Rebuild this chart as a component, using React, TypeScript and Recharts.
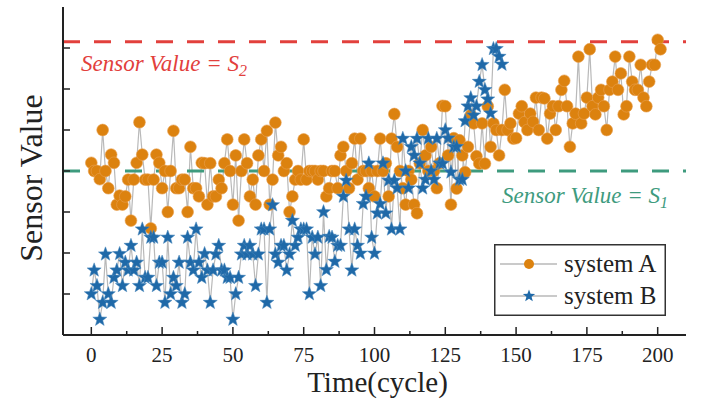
import { LineChart, Line, XAxis, YAxis, ReferenceLine, Legend } from 'recharts';

// sensor readings per cycle
const SYSTEM_A = [
  3.2, 3.0, 3.0, 2.8, 4.0, 3.0, 2.58, 3.4, 3.2, 2.18,
  2.4, 2.18, 2.38, 2.79, 1.79, 2.79, 3.2, 4.19, 3.4, 2.79,
  2.79, 1.6, 2.79, 3.4, 3.2, 2.58, 3.0, 2.0, 3.0, 3.98,
  2.58, 2.58, 2.79, 2.79, 2.0, 3.59, 2.58, 2.58, 2.38, 3.2,
  3.19, 2.18, 3.19, 2.38, 2.38, 2.79, 2.58, 3.19, 3.77, 3.0,
  2.18, 3.38, 1.79, 3.0, 3.77, 3.19, 2.38, 2.79, 2.18, 3.38,
  3.77, 3.0, 3.98, 2.18, 2.79, 4.18, 3.38, 3.59, 3.0, 3.19,
  2.0, 2.38, 2.79, 3.0, 2.79, 3.77, 2.79, 3.0, 3.0, 3.0,
  2.79, 3.0, 3.0, 2.38, 2.58, 3.0, 3.0, 2.58, 3.38, 3.59,
  3.0, 2.58, 3.19, 3.79, 2.79, 3.79, 3.0, 3.0, 2.58, 3.0,
  2.38, 3.0, 3.79, 3.0, 3.19, 2.38, 3.79, 4.39, 3.59, 3.0,
  2.58, 2.18, 3.0, 2.79, 2.18, 1.97, 3.19, 4.0, 3.38, 3.0,
  3.59, 3.0, 2.58, 3.19, 4.59, 4.58, 3.38, 2.18, 3.8, 2.57,
  3.75, 3.38, 2.97, 3.59, 4.36, 4.16, 3.36, 3.18, 4.16, 3.18,
  4.58, 3.59, 4.16, 4.0, 3.38, 4.0, 4.98, 4.0, 4.16, 3.79,
  3.8, 4.4, 4.58, 4.19, 4.0, 4.4, 4.2, 4.79, 4.0, 4.79,
  4.77, 3.79, 4.4, 4.58, 4.0, 4.58, 4.98, 5.2, 4.58, 3.59,
  4.16, 4.4, 5.79, 4.16, 4.4, 4.79, 5.97, 4.58, 4.38, 4.79,
  4.98, 4.58, 4.0, 4.98, 5.18, 5.79, 4.98, 5.38, 4.38, 4.58,
  5.79, 5.18, 4.98, 4.98, 5.59, 4.79, 4.58, 5.18, 5.59, 5.59,
  6.2, 5.97,
];

const SYSTEM_B = [
  0.0, 0.58, 0.2, -0.62, -0.21, 0.97, 0.0, -0.21, 0.4, 0.58,
  0.98, 0.2, 0.77, 0.58, 1.18, 0.58, 0.77, 0.2, 1.58, 0.4,
  0.4, 1.38, 1.38, 0.2, 0.77, 0.77, -0.21, 1.38, 0.0, 0.4,
  0.2, 0.77, -0.21, 0.0, 1.38, 0.77, 0.58, 1.58, 0.77, 0.4,
  0.98, 0.58, -0.21, 0.58, 0.97, 1.18, 0.58, 0.58, 0.4, 0.4,
  -0.62, 0.0, 0.4, 0.97, 1.18, 0.97, 1.18, 0.97, 0.2, 0.97,
  1.58, 1.58, -0.21, 1.58, 2.17, 0.97, 0.77, 1.18, 1.18, 0.58,
  0.97, 1.79, 1.18, 1.38, 1.58, 1.58, 1.58, 0.0, 1.38, 0.97,
  1.38, 0.2, 2.0, 0.59, 1.4, 1.38, 0.79, 1.18, 1.18, 2.38,
  2.77, 1.58, 0.58, 1.58, 1.18, 0.99, 2.2, 2.38, 3.19, 1.38,
  0.99, 1.97, 2.2, 3.19, 1.97, 2.77, 1.58, 2.77, 2.58, 1.58,
  3.79, 3.0, 2.58, 3.59, 3.38, 3.79, 3.19, 2.58, 2.79, 3.79,
  3.0, 2.79, 3.79, 3.19, 3.18, 4.0, 3.8, 2.97, 3.59, 3.59,
  2.79, 2.79, 4.22, 4.58, 4.78, 4.36, 4.58, 5.18, 5.59, 4.98,
  4.75, 4.41, 5.98, 5.98, 5.79, 5.6,
];

const X_TICKS = [0, 12.5, 25, 37.5, 50, 62.5, 75, 87.5, 100, 112.5, 125, 137.5, 150, 162.5, 175, 187.5, 200];
const Y_TICKS = [0, 1, 2, 3, 4, 5, 6];
const LEVEL_S1 = 3.0;
const LEVEL_S2 = 6.15;

const FONT = '"Liberation Serif", "Times New Roman", serif';
const ORANGE = '#DC820F';
const BLUE = '#1F69A8';
const GREY = '#b9b9b9';
const RED = '#E2403C';
const GREEN = '#3E9B7E';
const AXIS = '#222';

const chartData = SYSTEM_A.map((a, t) => ({
  t,
  a,
  b: t < SYSTEM_B.length ? SYSTEM_B[t] : null,
}));

function starPoints(cx: number, cy: number, outer: number, inner: number) {
  const pts: string[] = [];
  for (let i = 0; i < 10; i++) {
    const r = i % 2 === 0 ? outer : inner;
    const ang = -Math.PI / 2 + (i * Math.PI) / 5;
    pts.push(`${cx + r * Math.cos(ang)},${cy + r * Math.sin(ang)}`);
  }
  return pts.join(' ');
}

const CircleDot = (props: any) => {
  const { cx, cy, index } = props;
  if (cx == null || cy == null) return <g key={`a-${index}`} />;
  return <circle key={`a-${index}`} cx={cx} cy={cy} r={5.9} fill={ORANGE} stroke="#e8a050" strokeWidth={0.6} />;
};

const StarDot = (props: any) => {
  const { cx, cy, index, value } = props;
  if (cx == null || cy == null || value == null) return <g key={`b-${index}`} />;
  return <polygon key={`b-${index}`} points={starPoints(cx, cy, 7.4, 3.1)} fill={BLUE} stroke="#4a88bd" strokeWidth={0.5} />;
};

const textStyle = { fontFamily: FONT };

const XTick = (props: any) => {
  const { x, y, payload } = props;
  const major = payload.value % 25 === 0;
  return (
    <g>
      <line x1={x} x2={x} y1={y} y2={y - (major ? 8 : 4)} stroke={AXIS} strokeWidth={1.5} />
      {major && (
        <text x={x} y={y + 27} textAnchor="middle" fontSize={21} style={textStyle} fill={AXIS}>
          {payload.value}
        </text>
      )}
    </g>
  );
};

const YTick = (props: any) => {
  const { x, y } = props;
  return <line x1={x} x2={x + 7} y1={y} y2={y} stroke={AXIS} strokeWidth={1.5} />;
};

const S2Label = (props: any) => {
  const { viewBox } = props;
  return (
    <text x={viewBox.x + 18} y={viewBox.y + 29} fill={RED} fontStyle="italic" fontSize={23} style={textStyle}>
      Sensor Value = S<tspan fontSize={16} dy={5}>2</tspan>
    </text>
  );
};

const S1Label = (props: any) => {
  const { viewBox } = props;
  return (
    <text
      x={viewBox.x + viewBox.width - 18}
      y={viewBox.y + 32}
      textAnchor="end"
      fill={GREEN}
      fontStyle="italic"
      fontSize={23}
      style={textStyle}
    >
      Sensor Value = S<tspan fontSize={16} dy={5}>1</tspan>
    </text>
  );
};

const LegendBox = () => (
  <svg width={172} height={72} style={{ display: 'block' }}>
    <rect x={0.75} y={0.75} width={170.5} height={70.5} fill="#fff" stroke="#333" strokeWidth={1.5} />
    <line x1={6} x2={63} y1={20} y2={20} stroke={GREY} strokeWidth={1.5} />
    <circle cx={35} cy={20} r={5} fill={ORANGE} />
    <text x={70} y={28} fontSize={25} style={textStyle} fill={AXIS}>system A</text>
    <line x1={6} x2={63} y1={52} y2={52} stroke={GREY} strokeWidth={1.5} />
    <polygon points={starPoints(35, 52, 6.5, 2.7)} fill={BLUE} />
    <text x={70} y={60} fontSize={25} style={textStyle} fill={AXIS}>system B</text>
  </svg>
);

export default function App() {
  return (
    <div style={{ position: 'absolute', left: 0, top: 0, width: 715, height: 402, background: '#fff', fontFamily: FONT }}>
      <LineChart width={715} height={402} data={chartData} margin={{ top: 7, right: 29, left: 0, bottom: 0 }}>
        <XAxis
          dataKey="t"
          type="number"
          domain={[-10, 210]}
          ticks={X_TICKS}
          interval={0}
          allowDataOverflow
          height={67}
          tickSize={0}
          tickMargin={0}
          tickLine={false}
          tick={<XTick />}
          axisLine={{ stroke: AXIS, strokeWidth: 2 }}
          label={{
            content: (p: any) => (
              <text
                x={p.viewBox.x + p.viewBox.width / 2 + 3}
                y={p.viewBox.y + 57}
                textAnchor="middle"
                fontSize={29}
                style={textStyle}
                fill={AXIS}
              >
                Time(cycle)
              </text>
            ),
          }}
        />
        <XAxis xAxisId="top" orientation="top" type="number" domain={[-10, 210]} height={0} tick={false} tickLine={false} axisLine={{ stroke: AXIS, strokeWidth: 2 }} />
        <YAxis
          type="number"
          domain={[-1, 7]}
          ticks={Y_TICKS}
          interval={0}
          allowDataOverflow
          width={63}
          tickSize={0}
          tickMargin={0}
          tickLine={false}
          tick={<YTick />}
          axisLine={{ stroke: AXIS, strokeWidth: 2 }}
          label={{
            content: (p: any) => {
              const cx = p.viewBox.x + 31;
              const cy = p.viewBox.y + p.viewBox.height / 2 + 7;
              return (
                <text
                  x={cx}
                  y={cy}
                  transform={`rotate(-90, ${cx}, ${cy})`}
                  textAnchor="middle"
                  dominantBaseline="central"
                  fontSize={32}
                  style={textStyle}
                  fill={AXIS}
                >
                  Sensor Value
                </text>
              );
            },
          }}
        />
        <YAxis yAxisId="right" orientation="right" domain={[-1, 7]} width={0} tick={false} tickLine={false} axisLine={{ stroke: AXIS, strokeWidth: 2 }} />
        <Line
          type="linear"
          dataKey="a"
          name="system A"
          stroke={GREY}
          strokeWidth={1.2}
          dot={CircleDot}
          activeDot={false}
          isAnimationActive={false}
        />
        <Line
          type="linear"
          dataKey="b"
          name="system B"
          stroke={GREY}
          strokeWidth={1.2}
          dot={StarDot}
          activeDot={false}
          isAnimationActive={false}
        />
        <ReferenceLine y={LEVEL_S2} stroke={RED} strokeWidth={3} strokeDasharray="17 14" label={{ content: (p: any) => <S2Label {...p} /> }} />
        <ReferenceLine y={LEVEL_S1} stroke={GREEN} strokeWidth={3} strokeDasharray="17 14" label={{ content: (p: any) => <S1Label {...p} /> }} />
        <Legend
          layout="vertical"
          align="center"
          verticalAlign="middle"
          content={() => <LegendBox />}
          wrapperStyle={{ left: 494, top: 244, width: 172, height: 72, right: 'auto', bottom: 'auto' }}
        />
      </LineChart>
    </div>
  );
}
